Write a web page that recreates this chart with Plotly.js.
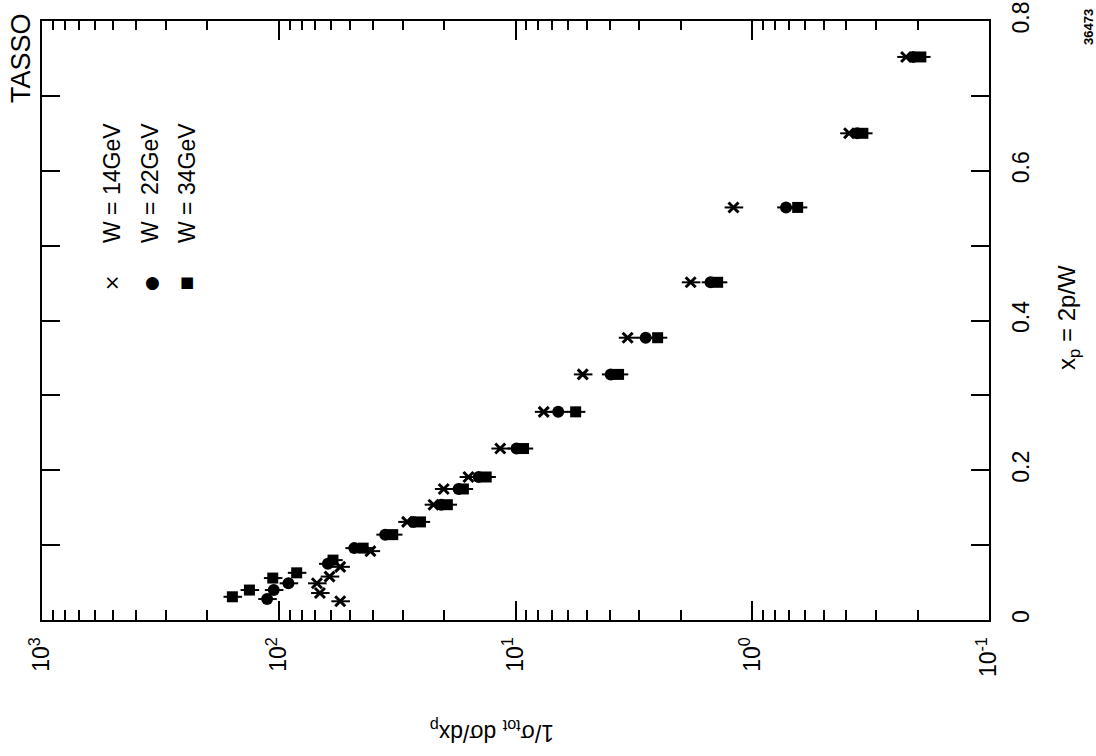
<!DOCTYPE html>
<html>
<head>
<meta charset="utf-8">
<script src="https://cdn.plot.ly/plotly-3.0.1.min.js"></script>
<style>html,body{margin:0;padding:0;background:#fff;}#chart{width:1096px;height:756px;}</style>
</head>
<body>
<div id="chart"></div>
<script>
// x_p values and 1/sigma dsigma/dx_p for each energy
var xp14 = [0.025, 0.036, 0.049, 0.058, 0.071, 0.092, 0.131, 0.154, 0.175, 0.191, 0.229, 0.278, 0.328, 0.377, 0.451, 0.551, 0.650, 0.752];
var v14  = [55, 67, 69, 61, 55, 41, 28.7, 22.2, 20.1, 15.8, 11.6, 7.6, 5.2, 3.36, 1.82, 1.20, 0.39, 0.224];

var xp22 = [0.028, 0.040, 0.049, 0.075, 0.096, 0.114, 0.131, 0.154, 0.175, 0.191, 0.229, 0.278, 0.328, 0.377, 0.451, 0.551, 0.650, 0.752];
var v22  = [112, 105, 91, 62, 48, 35.5, 27.0, 20.6, 17.4, 14.3, 9.9, 6.6, 3.96, 2.82, 1.50, 0.72, 0.361, 0.209];

var xp34 = [0.031, 0.040, 0.056, 0.063, 0.080, 0.096, 0.114, 0.131, 0.154, 0.175, 0.191, 0.229, 0.278, 0.328, 0.377, 0.451, 0.551, 0.650, 0.752];
var v34  = [157, 133, 106, 84, 59, 44, 33, 25.2, 19.4, 16.6, 13.3, 9.25, 5.57, 3.67, 2.51, 1.40, 0.643, 0.341, 0.194];

var seriesNames = ['W = 14GeV', 'W = 22GeV', 'W = 34GeV'];
var logTickVals = [1000, 100, 10, 1, 0.1];
var logTickText = ['10<sup>3</sup>', '10<sup>2</sup>', '10<sup>1</sup>', '10<sup>0</sup>', '10<sup>-1</sup>'];
var logMinorVals = [900, 800, 700, 600, 500, 400, 300, 200,
                    90, 80, 70, 60, 50, 40, 30, 20,
                    9, 8, 7, 6, 5, 4, 3, 2,
                    0.9, 0.8, 0.7, 0.6, 0.5, 0.4, 0.3, 0.2];
var xpTickVals = [0, 0.1, 0.2, 0.3, 0.4, 0.5, 0.6, 0.7, 0.8];
var xpTickText = ['0', '', '0.2', '', '0.4', '', '0.6', '', '0.8'];

var FONT = 'Liberation Sans, Arial, sans-serif';
var errStyle = {type: 'percent', value: 9, thickness: 2, width: 0, color: '#000'};

function ghost(xa, ya) {
  // invisible copy so an overlay tick axis gets drawn
  return {x: v34, y: xp34, xaxis: xa, yaxis: ya, type: 'scatter', mode: 'markers',
          marker: {opacity: 0, size: 1}, hoverinfo: 'skip', showlegend: false};
}

var traces = [
  {x: v14, y: xp14, mode: 'markers', type: 'scatter', name: seriesNames[0],
   marker: {symbol: 'x-thin-open', size: 10, color: '#000', line: {width: 3, color: '#000'}},
   error_x: errStyle},
  {x: v22, y: xp22, mode: 'markers', type: 'scatter', name: seriesNames[1],
   marker: {symbol: 'circle', size: 12, color: '#000'},
   error_x: errStyle},
  {x: v34, y: xp34, mode: 'markers', type: 'scatter', name: seriesNames[2],
   marker: {symbol: 'square', size: 11, color: '#000'},
   error_x: errStyle},
  ghost('x2', 'y'), ghost('x3', 'y'), ghost('x4', 'y'), ghost('x', 'y2')
];

var L = 42, R = 989, T = 21, B = 620;
var PW = R - L, PH = B - T;
function px(x) { return (x - L) / PW; }
function py(y) { return (B - y) / PH; }

var annotations = [
  {text: 'TASSO', x: px(21), y: py(58), textangle: -90, font: {size: 27, family: FONT}},
  {text: '36473', x: px(1089), y: py(27), textangle: -90, font: {size: 13, family: FONT, weight: 'bold'}},
  {text: 'x<sub>p</sub> = 2p/W', x: px(1068), y: py(318), textangle: -90, font: {size: 24, family: FONT}},
  {text: '1/σ<sub>tot</sub> dσ/dx<sub>p</sub>', x: px(492), y: py(732), textangle: 180, font: {size: 23, family: FONT}},
  {text: seriesNames[0], x: px(112), y: py(245), yanchor: 'bottom', textangle: -90, font: {size: 23, family: FONT}},
  {text: seriesNames[1], x: px(150), y: py(245), yanchor: 'bottom', textangle: -90, font: {size: 23, family: FONT}},
  {text: seriesNames[2], x: px(187), y: py(245), yanchor: 'bottom', textangle: -90, font: {size: 23, family: FONT}},
  {text: '×', x: px(112), y: py(282), font: {size: 20, family: 'DejaVu Sans'}},
  {text: '●', x: px(152), y: py(282), font: {size: 17, family: 'DejaVu Sans'}},
  {text: '■', x: px(187), y: py(282), font: {size: 15, family: 'DejaVu Sans'}}
].map(function (a) {
  return Object.assign({xref: 'paper', yref: 'paper', showarrow: false, xanchor: 'center', yanchor: 'middle'}, a, {
    font: Object.assign({color: '#000'}, a.font)
  });
});

function logTickAxis(side, vals, len) {
  return {
    type: 'log', range: [3, -1], autorange: false, side: side, overlaying: 'x', anchor: 'y',
    showgrid: false, zeroline: false, showline: false,
    ticks: 'inside', ticklen: len, tickwidth: 2, tickcolor: '#000',
    tickmode: 'array', tickvals: vals, showticklabels: false
  };
}

var layout = {
  width: 1096, height: 756,
  margin: {l: L, r: 1096 - R, t: T, b: 756 - B, pad: 0},
  paper_bgcolor: '#fff', plot_bgcolor: '#fff',
  showlegend: false,
  font: {family: FONT, color: '#000', size: 22},
  xaxis: {
    type: 'log', range: [3, -1], autorange: false, side: 'bottom', anchor: 'y',
    showgrid: false, zeroline: false,
    showline: true, linecolor: '#000', linewidth: 2, mirror: true,
    ticks: 'inside', ticklen: 19, tickwidth: 2, tickcolor: '#000',
    tickmode: 'array', tickvals: logTickVals, ticktext: logTickText, tickangle: -90,
    tickfont: {family: FONT, size: 23}, ticklabelstandoff: 6
  },
  xaxis2: logTickAxis('bottom', logMinorVals, 10),
  xaxis3: logTickAxis('top', logTickVals, 19),
  xaxis4: logTickAxis('top', logMinorVals, 9),
  yaxis: {
    range: [0, 0.8], autorange: false, side: 'right', anchor: 'x',
    showgrid: false, zeroline: false,
    showline: true, linecolor: '#000', linewidth: 2, mirror: true,
    ticks: 'inside', ticklen: 18, tickwidth: 2, tickcolor: '#000',
    tickmode: 'array', tickvals: xpTickVals, ticktext: xpTickText, tickangle: -90,
    tickfont: {family: FONT, size: 23}, ticklabelstandoff: 10
  },
  yaxis2: {
    range: [0, 0.8], autorange: false, side: 'left', overlaying: 'y', anchor: 'x',
    showgrid: false, zeroline: false, showline: false,
    ticks: 'inside', ticklen: 18, tickwidth: 2, tickcolor: '#000',
    tickmode: 'array', tickvals: xpTickVals, showticklabels: false
  },
  annotations: annotations
};

Plotly.newPlot('chart', traces, layout, {displayModeBar: false, staticPlot: true});
</script>
</body>
</html>
